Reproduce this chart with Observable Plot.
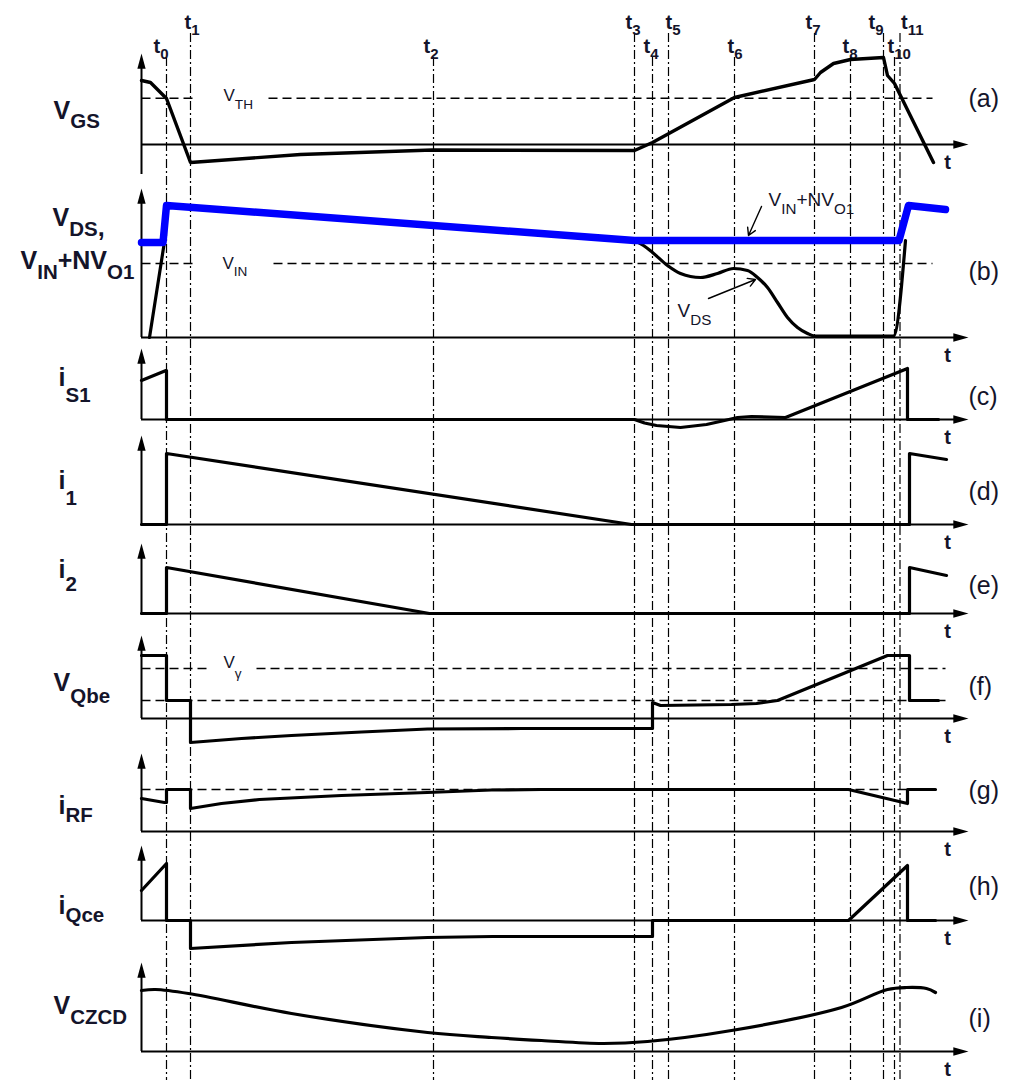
<!DOCTYPE html>
<html>
<head>
<meta charset="utf-8">
<script src="https://cdn.jsdelivr.net/npm/d3@7"></script>
<script src="https://cdn.jsdelivr.net/npm/@observablehq/plot@0.6"></script>
<style>
  html, body { margin: 0; padding: 0; background: #fff; }
  #chart { width: 1016px; height: 1080px; }
</style>
</head>
<body>
<div id="chart"></div>
<script>
// ---------------- DATA ----------------
// switching instants (time units)
const tNames = ["t_{0}","t_{1}","t_{2}","t_{3}","t_{4}","t_{5}","t_{6}","t_{7}","t_{8}","t_{9}","t_{10}","t_{11}"];
const tMarks = [2.5, 4.9, 29.2, 49.3, 51.1, 52.7, 59.3, 67.3, 70.9, 74.2, 75.3, 75.85];

// panel names and labels
const panels = ["a","b","c","d","e","f","g","h","i"];
const panelTags = ["(a)","(b)","(c)","(d)","(e)","(f)","(g)","(h)","(i)"];
const signalNames = ["V_{GS}","V_{DS},","V_{IN}+NV_{O1}","i_{S1}","i_{1}","i_{2}","V_{Qbe}","i_{RF}","i_{Qce}","V_{CZCD}"];

// (a) V_GS
const vgsT = [0, 0.9, 2.5, 4.9, 15.9, 29.1, 49.3, 51.1, 59.3, 67.3, 67.9, 69.2, 70.9, 74.2, 74.6, 75.3, 79.2];
const vgsV = [6.4, 6.2, 4.6, -1.8, -1.0, -0.55, -0.6, 0.2, 4.7, 6.5, 7.2, 8.1, 8.5, 8.7, 6.9, 6.1, -1.8];
const vthLevel = 4.63;

// (b) V_IN + N V_O1 (blue) and V_DS (black)
const vinT = [0, 2.15, 2.5, 49.3, 75.75, 76.7, 80.4];
const vinV = [9.5, 9.5, 13.2, 9.7, 9.7, 13.2, 12.8];
const vdsRiseT = [0.8, 2.3];
const vdsRiseV = [0, 9.6];
const vdsT = [49.3, 50.2, 51.1, 52.6, 53.9, 55.9, 57.6, 59.2, 60.6, 61.6, 62.6, 63.6, 64.6, 65.6, 66.6, 67.3, 75.2, 76.4];
const vdsV = [9.7, 9.2, 8.5, 7.2, 6.4, 6.0, 6.4, 6.9, 6.7, 6.0, 5.0, 3.5, 2.0, 1.0, 0.4, 0.15, 0.15, 9.7];
const vinLevel = 7.4;

// (c) i_S1
const is1T = [0, 2.45, 2.5, 2.5, 49.3, 50.3, 51.5, 53.9, 56.5, 58.3, 59.6, 61.0, 64.4, 76.6, 76.6, 79.7];
const is1V = [3.9, 4.9, 4.9, 0, 0, -0.35, -0.6, -0.8, -0.5, -0.1, 0.2, 0.3, 0.2, 5.1, 0, 0];

// (d) i_1
const i1T = [0, 2.5, 2.5, 49.0, 76.8, 76.8, 80.5];
const i1V = [0, 0, 7.1, 0, 0, 7.1, 6.5];

// (e) i_2
const i2T = [0, 2.5, 2.5, 28.8, 76.8, 76.8, 80.5];
const i2V = [0, 0, 4.6, 0, 0, 4.6, 3.8];

// (f) V_Qbe
const vqbeT = [0, 2.5, 2.5, 4.9, 4.9, 10, 15, 22, 28.6, 38, 51.1, 51.1, 51.9, 59.0, 61.5, 63.6, 74.6, 76.8, 76.8, 79.7];
const vqbeV = [6.3, 6.3, 1.8, 1.8, -2.4, -2.0, -1.7, -1.35, -1.05, -1.0, -1.0, 1.6, 1.3, 1.4, 1.5, 1.8, 6.3, 6.3, 1.8, 1.8];
const vgammaHigh = 5.0;
const vgammaLow = 1.8;

// (g) i_RF
const irfT = [0, 2.3, 2.5, 2.5, 4.9, 4.9, 8, 11.8, 20, 28.6, 35, 40, 70.7, 76.6, 76.6, 79.4];
const irfV = [3.3, 2.9, 2.9, 4.2, 4.2, 2.3, 2.8, 3.2, 3.6, 3.9, 4.15, 4.2, 4.2, 2.8, 4.2, 4.2];
const irfLevel = 4.2;

// (h) i_Qce
const iqceT = [0, 2.5, 2.5, 4.9, 4.9, 15, 28.6, 35.1, 51.1, 51.1, 70.7, 76.6, 76.6, 79.4];
const iqceV = [3.0, 5.7, 0, 0, -2.8, -2.2, -1.7, -1.6, -1.6, 0, 0, 5.5, 0, 0];

// (i) V_CZCD
const vczT = [0, 1.4, 4.7, 15, 28.6, 35, 40, 46.1, 50.6, 59, 70, 74.6, 76.5, 78.5, 79.4];
const vczV = [6.1, 6.2, 5.8, 3.8, 1.9, 1.4, 1.1, 0.8, 1.0, 2.1, 4.4, 6.2, 6.4, 6.3, 5.9];

// ---------------- LAYOUT (pixels) ----------------
const base    = {a:144, b:337, c:419, d:524, e:613, f:718, g:831, h:920, i:1051};
const axisTop = {a:53,  b:188, c:348, d:435, e:543, f:635, g:753, h:845, i:962};
const axisBot = {a:174, b:337, c:419, d:524, e:613, f:718, g:831, h:920, i:1051};
const tagY    = {a:106, b:279, c:404, d:499, e:593, f:694, g:798, h:894, i:1026};
const tLabelDx = [-13, -6, -10, -9, -9, -3, -7, -9, -8, -15, -7, 1];
const K = 10; // px per value unit
const Y = (p, v) => base[p] - K * v;

const sig = (p, T, V) => T.map((t, k) => ({t, y: Y(p, V[k])}));

// dashed reference levels, split around their labels
const refs = [
  {p:"a", v:vthLevel, t1:0, t2:5.1}, {p:"a", v:vthLevel, t1:12.7, t2:79.1},
  {p:"b", v:vinLevel, t1:0, t2:5.6}, {p:"b", v:vinLevel, t1:13.2, t2:79.1},
  {p:"f", v:vgammaHigh, t1:0, t2:6.6}, {p:"f", v:vgammaHigh, t1:11.5, t2:80.4},
  {p:"f", v:vgammaLow, t1:0, t2:80.4},
  {p:"g", v:irfLevel, t1:0, t2:79.4}
];
const refLabels = [
  {p:"a", t:8.2, v:4.4, s:"V_{TH}"},
  {p:"b", t:8.1, v:6.9, s:"V_{IN}"},
  {p:"f", t:8.2, v:5.1, s:"V_{γ}"}
];

// left signal-name labels
const leftLabels = [
  {s:signalNames[0], t:-8.8, y:118},
  {s:signalNames[1], t:-8.9, y:225},
  {s:signalNames[2], t:-12.1, y:268},
  {s:signalNames[3], t:-8.3, y:385},
  {s:signalNames[4], t:-8.3, y:488},
  {s:signalNames[5], t:-8.3, y:577},
  {s:signalNames[6], t:-8.8, y:690},
  {s:signalNames[7], t:-8.3, y:813},
  {s:signalNames[8], t:-8.3, y:913},
  {s:signalNames[9], t:-8.8, y:1013}
];

const subStyle = {
  "V_{GS}": {size:"0.82em", dy:9},
  "V_{DS},": {size:"0.82em", dy:10, stayLow:true},
  "V_{IN}+NV_{O1}": {size:"0.82em", dy:10},
  "i_{S1}": {size:"0.82em", dy:16},
  "i_{1}": {size:"0.82em", dy:16},
  "i_{2}": {size:"0.82em", dy:13},
  "V_{Qbe}": {size:"0.82em", dy:12},
  "i_{RF}": {size:"0.82em", dy:8},
  "i_{Qce}": {size:"0.82em", dy:8},
  "V_{CZCD}": {size:"0.82em", dy:10},
  "V_{TH}": {size:"0.8em", dy:8},
  "V_{IN}": {size:"0.8em", dy:7},
  "V_{γ}": {size:"0.8em", dy:10},
  "V_{DS}": {size:"0.8em", dy:8},
  "V_{IN}+NV_{O1} ": {size:"0.8em", dy:8}
};

// annotation arrows
const annText = [
  {s:"V_{DS}", t:53.6, v:2.1},
  {s:"V_{IN}+NV_{O1} ", t:62.7, v:13.2}
];
const annArrows = [
  {t1:56.7, v1:3.9, t2:61.4, v2:5.8},
  {t1:62.0, v1:13.1, t2:60.7, v2:10.2}
];

// ---------------- SYMBOLS ----------------
const arrowUp = {draw(ctx, size) { const r = Math.sqrt(size / Math.PI);
  ctx.moveTo(0, 0); ctx.lineTo(-0.9 * r, 3.3 * r); ctx.lineTo(0.9 * r, 3.3 * r); ctx.closePath(); }};
const arrowRight = {draw(ctx, size) { const r = Math.sqrt(size / Math.PI);
  ctx.moveTo(0, 0); ctx.lineTo(-3.3 * r, -0.9 * r); ctx.lineTo(-3.3 * r, 0.9 * r); ctx.closePath(); }};

const FONT = "'Liberation Sans', Arial, Helvetica, sans-serif";
const INK = "#14142a";
const tIdx = d3.range(tMarks.length);
const X_END = 82.7;

const plot = Plot.plot({
  width: 1016,
  height: 1080,
  margin: 0,
  x: {domain: [-14.1, 87.5], axis: null},
  y: {domain: [0, 1080], range: [0, 1080], axis: null},
  style: {background: "#fff", fontFamily: FONT},
  marks: [
    // switching-instant guide lines
    Plot.ruleX(tIdx, {x: i => tMarks[i], y1: i => (i % 2 ? 33 : 57), y2: 1080,
      stroke: "#000", strokeWidth: 1.2, strokeDasharray: "9,3,2,3"}),
    ...tIdx.map(i => Plot.text([i], {x: j => tMarks[j], y: j => (j % 2 ? 28 : 52), text: j => tNames[j],
      textAnchor: "start", lineAnchor: "bottom", fontSize: 20, fontWeight: "bold", fill: INK, dx: tLabelDx[i]})),

    // dashed reference levels
    Plot.link(refs, {x1: "t1", x2: "t2", y1: d => Y(d.p, d.v), y2: d => Y(d.p, d.v),
      stroke: "#000", strokeWidth: 1.4, strokeDasharray: "9,5"}),
    Plot.text(refLabels, {x: "t", y: d => Y(d.p, d.v), text: "s", textAnchor: "start",
      lineAnchor: "bottom", fontSize: 17, fill: INK}),

    // axes
    Plot.ruleY(panels, {y: p => base[p], x1: 0, x2: X_END - 1, stroke: "#000", strokeWidth: 2}),
    Plot.ruleX(panels, {x: 0, y1: p => axisTop[p] + 6, y2: p => axisBot[p], stroke: "#000", strokeWidth: 2}),
    Plot.dot(panels, {x: X_END, y: p => base[p], symbol: arrowRight, r: 4.6, fill: "#000", stroke: null}),
    Plot.dot(panels, {x: 0, y: p => axisTop[p], symbol: arrowUp, r: 4.6, fill: "#000", stroke: null}),
    Plot.text(panels, {x: 80.6, y: p => base[p] + 24, text: () => "t", textAnchor: "middle",
      lineAnchor: "bottom", fontSize: 20, fontWeight: "bold", fill: INK}),
    Plot.text(panels, {x: X_END, y: p => tagY[p], text: (p, k) => panelTags[k], textAnchor: "start",
      lineAnchor: "bottom", fontSize: 25, fill: INK}),

    // waveforms
    Plot.line(sig("a", vgsT, vgsV), {x: "t", y: "y", stroke: "#000", strokeWidth: 3.4, strokeLinejoin: "round"}),
    Plot.line(sig("b", vdsRiseT, vdsRiseV), {x: "t", y: "y", stroke: "#000", strokeWidth: 3.2}),
    Plot.line(sig("b", vdsT, vdsV), {x: "t", y: "y", stroke: "#000", strokeWidth: 3.2, curve: "monotone-x"}),
    Plot.line(sig("b", vinT, vinV), {x: "t", y: "y", stroke: "#0000ff", strokeWidth: 7.5, strokeLinejoin: "round"}),
    Plot.line(sig("c", is1T, is1V), {x: "t", y: "y", stroke: "#000", strokeWidth: 3.2, strokeLinejoin: "round"}),
    Plot.line(sig("d", i1T, i1V), {x: "t", y: "y", stroke: "#000", strokeWidth: 3.2}),
    Plot.line(sig("e", i2T, i2V), {x: "t", y: "y", stroke: "#000", strokeWidth: 3.2}),
    Plot.line(sig("f", vqbeT, vqbeV), {x: "t", y: "y", stroke: "#000", strokeWidth: 3.2, strokeLinejoin: "round"}),
    Plot.line(sig("g", irfT, irfV), {x: "t", y: "y", stroke: "#000", strokeWidth: 3.2, strokeLinejoin: "round"}),
    Plot.line(sig("h", iqceT, iqceV), {x: "t", y: "y", stroke: "#000", strokeWidth: 3.2}),
    Plot.line(sig("i", vczT, vczV), {x: "t", y: "y", stroke: "#000", strokeWidth: 3.2, curve: "catmull-rom"}),

    // annotations
    Plot.arrow(annArrows, {x1: "t1", y1: d => Y("b", d.v1), x2: "t2", y2: d => Y("b", d.v2),
      stroke: "#000", strokeWidth: 1.4, headLength: 9}),
    Plot.text(annText, {x: "t", y: d => Y("b", d.v), text: "s", textAnchor: "start",
      lineAnchor: "bottom", fontSize: 19, fill: INK}),

    // signal names
    Plot.text(leftLabels, {x: "t", y: "y", text: "s", textAnchor: "start", lineAnchor: "bottom",
      fontSize: 25, fontWeight: "bold", fill: INK})
  ]
});

document.getElementById("chart").appendChild(plot);

// turn "_{...}" into subscript tspans
function applySubs(svg) {
  svg.querySelectorAll("text").forEach(el => {
    const raw = el.textContent;
    if (!raw.includes("_{")) return;
    const st = subStyle[raw] || {size: "0.75em", dy: 6};
    while (el.firstChild) el.removeChild(el.firstChild);
    let shifted = 0;
    const add = (txt, sub) => {
      if (!txt) return;
      const ts = document.createElementNS("http://www.w3.org/2000/svg", "tspan");
      ts.textContent = txt;
      if (sub) { ts.style.fontSize = st.size; ts.setAttribute("dy", st.dy - shifted); shifted = st.dy; }
      else if (shifted && !st.stayLow) { ts.setAttribute("dy", -shifted); shifted = 0; }
      el.appendChild(ts);
    };
    const re = /_\{([^}]*)\}/g;
    let last = 0, m;
    while ((m = re.exec(raw))) {
      add(raw.slice(last, m.index), false);
      add(m[1], true);
      last = re.lastIndex;
    }
    add(raw.slice(last).replace(/ $/, ""), false);
  });
}
applySubs(plot);
</script>
</body>
</html>
